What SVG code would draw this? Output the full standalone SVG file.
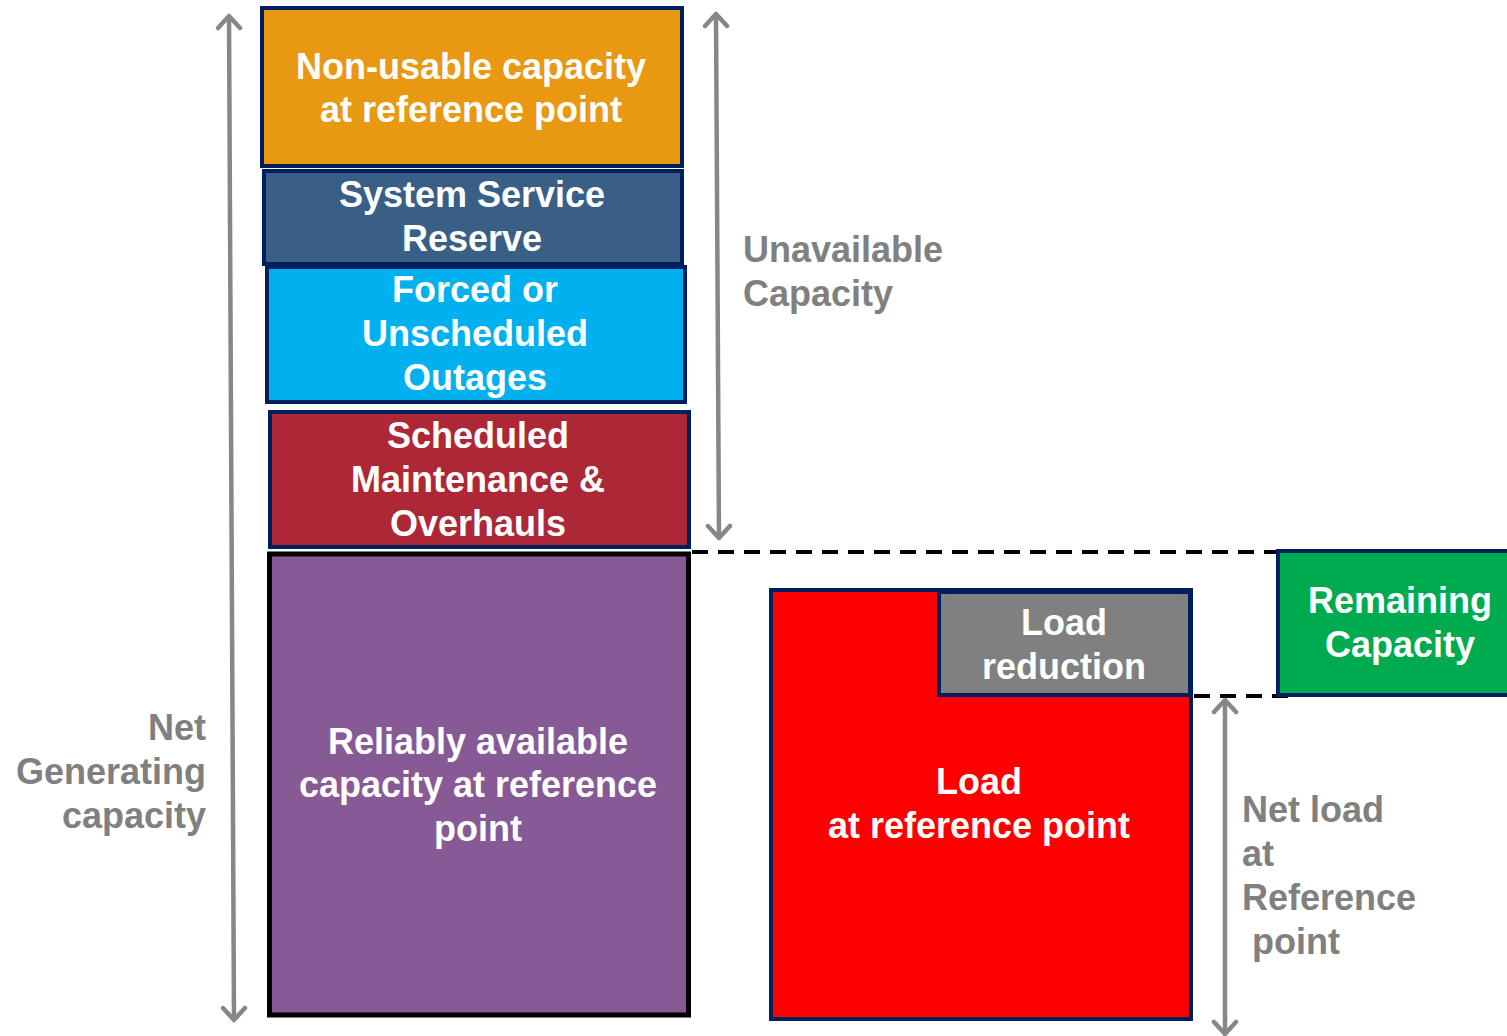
<svg xmlns="http://www.w3.org/2000/svg" width="1507" height="1036" viewBox="0 0 1507 1036">
<defs>
<style>
.box{stroke:#001F5F;stroke-width:4}
.t{font-family:"Liberation Sans",Arial,sans-serif;font-weight:bold;font-size:36px;fill:#fff;text-anchor:middle}
.g{font-family:"Liberation Sans",Arial,sans-serif;font-weight:bold;font-size:36px;fill:#808080}
.arr{stroke:#878787;stroke-width:4.5;fill:none}
.dash{stroke:#000;stroke-width:4;stroke-dasharray:16,10;fill:none}
</style>
<marker id="ah" viewBox="0 0 28 28" refX="20" refY="14" markerWidth="28" markerHeight="28" markerUnits="userSpaceOnUse" orient="auto-start-reverse">
<path d="M8,3 L20,14 L8,25" stroke="#878787" stroke-width="4.5" fill="none" stroke-linecap="round" stroke-linejoin="round"/>
</marker>
</defs>
<rect width="1507" height="1036" fill="#fff"/>
<g id="connectors">
<line class="dash" x1="692" y1="552" x2="1276" y2="552"/>
<line class="dash" x1="1194" y1="696" x2="1292" y2="696"/>
<path class="arr" d="M229,16 L234,1020" marker-start="url(#ah)" marker-end="url(#ah)"/>
<path class="arr" d="M716,14 L719,538" marker-start="url(#ah)" marker-end="url(#ah)"/>
<path class="arr" d="M1225,700 L1225,1034" marker-start="url(#ah)" marker-end="url(#ah)"/>
</g>
<g id="non-usable">
<rect class="box" x="262" y="8" width="420" height="158" fill="#E99812"/>
<text class="t" x="471" y="79">Non-usable capacity</text>
<text class="t" x="471" y="122">at reference point</text>
</g>
<g id="system-service-reserve">
<rect class="box" x="264" y="171" width="418" height="93" fill="#3A5F86"/>
<text class="t" x="472" y="207">System Service</text>
<text class="t" x="472" y="251">Reserve</text>
</g>
<g id="forced-outages">
<rect class="box" x="267" y="267" width="418" height="135" fill="#01B0EF"/>
<text class="t" x="475" y="302">Forced or</text>
<text class="t" x="475" y="346">Unscheduled</text>
<text class="t" x="475" y="390">Outages</text>
</g>
<g id="scheduled-maintenance">
<rect class="box" x="270" y="412" width="419" height="135" fill="#AE2736"/>
<text class="t" x="478" y="448">Scheduled</text>
<text class="t" x="478" y="492">Maintenance &amp;</text>
<text class="t" x="478" y="536">Overhauls</text>
</g>
<g id="reliably-available">
<rect x="269.5" y="554" width="419" height="461" fill="#875A95" stroke="#000" stroke-width="5"/>
<text class="t" x="478" y="754">Reliably available</text>
<text class="t" x="478" y="797">capacity at reference</text>
<text class="t" x="478" y="841">point</text>
</g>
<g id="load">
<rect class="box" x="771" y="590" width="420" height="429" fill="#FF0000"/>
<text class="t" x="979" y="794">Load</text>
<text class="t" x="979" y="838">at reference point</text>
</g>
<g id="load-reduction">
<rect class="box" x="939" y="592" width="251" height="103" fill="#808080"/>
<text class="t" x="1064" y="635">Load</text>
<text class="t" x="1064" y="679">reduction</text>
</g>
<g id="remaining-capacity">
<rect class="box" x="1278" y="551" width="234" height="144" fill="#00AB4F"/>
<text class="t" x="1400" y="613">Remaining</text>
<text class="t" x="1400" y="657">Capacity</text>
</g>
<g id="labels">
<text class="g" x="743" y="262">Unavailable</text>
<text class="g" x="743" y="306">Capacity</text>
<text class="g" x="206" y="740" text-anchor="end">Net</text>
<text class="g" x="206" y="784" text-anchor="end">Generating</text>
<text class="g" x="206" y="828" text-anchor="end">capacity</text>
<text class="g" x="1242" y="822">Net load</text>
<text class="g" x="1242" y="866">at</text>
<text class="g" x="1242" y="910">Reference</text>
<text class="g" x="1252" y="954">point</text>
</g>
</svg>
